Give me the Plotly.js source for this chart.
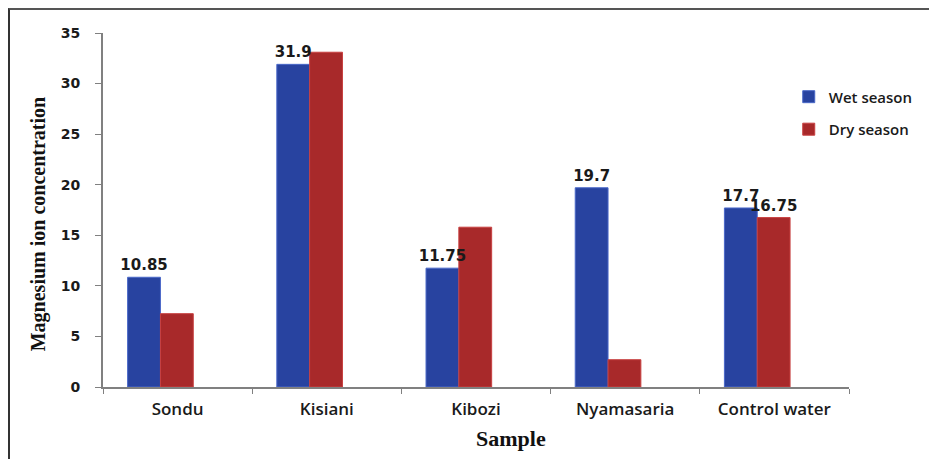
<!DOCTYPE html>
<html>
<head>
<meta charset="utf-8">
<script src="https://cdn.plot.ly/plotly-3.0.1.min.js"></script>
<style>
  html, body { margin: 0; padding: 0; background: #fff; }
  #wrap { position: relative; width: 929px; height: 459px; }
  #chart { position: absolute; left: 0; top: 0; width: 929px; height: 459px; }
  #frame { position: absolute; left: 8px; top: 8px; right: 0; bottom: 0;
           border-left: 2px solid #333; border-top: 2px solid #555; pointer-events: none; }
</style>
</head>
<body>
<div id="wrap">
  <div id="chart"></div>
  <div id="frame"></div>
</div>
<script>
// Magnesium ion concentration per sampling site, wet vs dry season
const samples = ['Sondu', 'Kisiani', 'Kibozi', 'Nyamasaria', 'Control water'];
const wetSeason = [10.85, 31.9, 11.75, 19.7, 17.7];
const drySeason = [7.25, 33.1, 15.8, 2.7, 16.75];
const wetLabels = ['10.85', '31.9', '11.75', '19.7', '17.7'];
const dryLabels = ['', '', '', '', '16.75'];
const yTicks = [0, 5, 10, 15, 20, 25, 30, 35];

const labelFont = { family: 'DejaVu Sans', size: 15, color: '#1a1a1a', weight: 'bold' };

const barWidth = 0.22;
const wetOffset = -0.335;
const dryOffset = wetOffset + barWidth;

function bars(name, values, offset, fill, edge) {
  return {
    type: 'bar', name: name, legendgroup: name, x: samples, y: values,
    width: barWidth, offset: offset,
    marker: { color: fill, line: { color: edge, width: 1 } }
  };
}

// Value labels ride on transparent copies of the bars so they sit above both series
function labels(values, texts, offset) {
  return {
    type: 'bar', x: samples, y: values, width: barWidth, offset: offset,
    showlegend: false, hoverinfo: 'skip',
    marker: { color: 'rgba(0,0,0,0)', line: { width: 0 } },
    text: texts, textposition: 'outside', cliponaxis: false, constraintext: 'none',
    textfont: labelFont
  };
}

const traces = [
  bars('Wet season', wetSeason, wetOffset, '#2843a0', '#4a68c8'),
  bars('Dry season', drySeason, dryOffset, '#a8292a', '#c84040'),
  labels(wetSeason, wetLabels, wetOffset),
  labels(drySeason, dryLabels, dryOffset)
];

const layout = {
  width: 929, height: 459,
  margin: { l: 103, r: 79, t: 33, b: 72 },
  paper_bgcolor: '#fff', plot_bgcolor: '#fff',
  barmode: 'overlay',
  showlegend: true,
  legend: {
    x: 0.918, y: 0.866, xanchor: 'left', yanchor: 'top',
    font: { family: 'Open Sans', size: 15, color: '#1a1a1a', weight: 600 },
    tracegroupgap: 10, itemwidth: 30, bgcolor: 'rgba(0,0,0,0)'
  },
  xaxis: {
    type: 'category', range: [-0.5, 4.5],
    showline: true, linecolor: '#808080', linewidth: 2,
    ticks: 'outside', tickson: 'boundaries', ticklen: 5, tickcolor: '#808080',
    tickfont: { family: 'Open Sans', size: 17, color: '#1a1a1a', weight: 600 },
    ticklabelstandoff: 6,
    showgrid: false, zeroline: false, fixedrange: true
  },
  yaxis: {
    range: [0, 35], tickvals: yTicks,
    showline: true, linecolor: '#808080', linewidth: 2,
    ticks: 'outside', ticklen: 6, tickcolor: '#808080',
    tickfont: { family: 'DejaVu Sans', size: 14, color: '#1a1a1a', weight: 'bold' },
    ticklabelstandoff: 12,
    showgrid: false, zeroline: false, fixedrange: true
  },
  annotations: [
    {
      text: 'Magnesium ion concentration', xref: 'paper', yref: 'paper',
      x: -0.087, y: 0.46, xanchor: 'center', yanchor: 'middle', textangle: -90,
      showarrow: false,
      font: { family: 'Liberation Serif', size: 20, color: '#111', weight: 'bold' }
    },
    {
      text: 'Sample', xref: 'paper', yref: 'paper',
      x: 0.547, y: -0.105, xanchor: 'center', yanchor: 'top', showarrow: false,
      font: { family: 'Liberation Serif', size: 22, color: '#111', weight: 'bold' }
    }
  ]
};

Plotly.newPlot('chart', traces, layout, { displayModeBar: false, staticPlot: true });
</script>
</body>
</html>
